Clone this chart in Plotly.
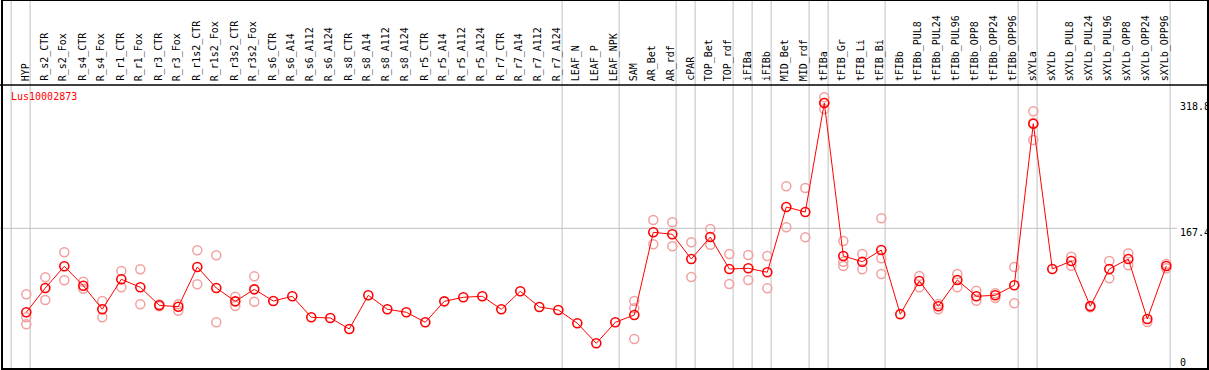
import plotly.graph_objects as go

title = "Lus10002873"

categories = [
    "HYP", "R_s2_CTR", "R_s2_Fox", "R_s4_CTR", "R_s4_Fox", "R_r1_CTR", "R_r1_Fox",
    "R_r3_CTR", "R_r3_Fox", "R_r1s2_CTR", "R_r1s2_Fox", "R_r3s2_CTR", "R_r3s2_Fox",
    "R_s6_CTR", "R_s6_A14", "R_s6_A112", "R_s6_A124", "R_s8_CTR", "R_s8_A14",
    "R_s8_A112", "R_s8_A124", "R_r5_CTR", "R_r5_A14", "R_r5_A112", "R_r5_A124",
    "R_r7_CTR", "R_r7_A14", "R_r7_A112", "R_r7_A124", "LEAF_N", "LEAF_P", "LEAF_NPK",
    "SAM", "AR_Bet", "AR_rdf", "cPAR", "TOP_Bet", "TOP_rdf", "iFIBa", "iFIBb",
    "MID_Bet", "MID_rdf", "tFIBa", "tFIB_Gr", "tFIB_Li", "tFIB_Bi", "tFIBb",
    "tFIBb_PUL8", "tFIBb_PUL24", "tFIBb_PUL96", "tFIBb_OPP8", "tFIBb_OPP24", "tFIBb_OPP96",
    "sXYLa", "sXYLb", "sXYLb_PUL8", "sXYLb_PUL24", "sXYLb_PUL96", "sXYLb_OPP8",
    "sXYLb_OPP24", "sXYLb_OPP96",
]

mean_values = [
    66.0, 95.3, 121.5, 98.1, 69.6, 105.8, 96.2,
    74.4, 72.7, 120.7, 95.3, 79.2, 93.7,
    79.6, 85.3, 59.9, 59.1, 45.8, 86.5,
    69.6, 66.0, 53.9, 79.2, 84.1, 85.3,
    69.6, 91.3, 72.4, 68.7, 52.7, 28.5, 53.9,
    62.7, 162.6, 160.2, 130.3, 156.9, 118.3, 119.1, 114.3,
    193.2, 187.1, 318.8, 134.0, 127.1, 141.2, 63.7,
    103.8, 73.2, 105.0, 85.3, 86.5, 98.6,
    293.8, 118.3, 127.9, 73.2, 118.3, 130.3,
    57.9, 121.9,
]

replicate_values = [
    [87.7, 59.9, 51.5], [108.2, 80.8], [138.4, 104.6], [102.9, 94.5], [79.6, 59.9],
    [115.8, 96.2], [117.9, 75.6], [75.5, 73.3], [75.6, 67.9], [140.9, 99.8],
    [134.8, 53.9], [84.8, 73.6], [109.4, 78.8],
    [], [], [], [], [], [], [], [], [], [], [], [], [], [], [], [], [], [], [],
    [79.6, 70.8, 33.7], [177.5, 148.1], [174.7, 145.7], [150.5, 108.6], [166.6, 147.6],
    [136.4, 100.1], [135.2, 105.0], [134.0, 94.9], [218.2, 168.6], [216.1, 156.6],
    [325.7, 319.0, 311.5], [152.1, 127.1, 121.9], [136.4, 117.9], [179.5, 131.2, 112.2],
    [], [109.8, 96.2], [76.0, 69.6], [112.2, 96.2], [92.0, 80.0], [88.9, 83.2],
    [120.7, 76.8], [308.8, 295.0, 274.1], [], [133.1, 122.2], [74.0, 72.0],
    [127.9, 107.0], [137.2, 122.7], [54.2], [124.3, 119.1],
]

# last category of each vertically separated group
group_last = ["HYP", "R_r7_A124", "LEAF_NPK", "AR_rdf", "cPAR", "TOP_rdf", "iFIBa",
              "iFIBb", "MID_rdf", "tFIBa", "tFIB_Bi", "tFIBb_OPP96", "sXYLa", "sXYLb_OPP96"]

tick_values = [318.8, 167.4, 0]
tick_labels = ["318.8", "167.4", "0"]
grid_value = 167.4

W, H = 1209, 370
MONO = "DejaVu Sans Mono, Liberation Mono, monospace"
RED = "#ff0000"
PINK = "#f2a0a0"
GRAY = "#c0c0c0"

xs = list(range(len(categories)))

rx, ry = [], []
for i, reps in enumerate(replicate_values):
    for v in reps:
        rx.append(i)
        ry.append(v)

fig = go.Figure()
fig.add_trace(go.Scatter(
    x=rx, y=ry, mode="markers",
    marker=dict(symbol="circle-open", size=9, color=PINK, line=dict(width=1.5, color=PINK)),
    hoverinfo="skip", showlegend=False, cliponaxis=False,
))
fig.add_trace(go.Scatter(
    x=xs, y=mean_values, mode="lines+markers",
    line=dict(color=RED, width=1),
    marker=dict(symbol="circle-open", size=9, color=RED, line=dict(width=1.6, color=RED)),
    showlegend=False, cliponaxis=False,
))

# axes mapping
x_step = 19.0
x0_px = 26.3
xr0 = -x0_px / x_step
xr1 = xr0 + W / x_step
y_scale = 1.208          # value units per pixel
y_zero_px = 366.9
yr0 = (y_zero_px - H) * y_scale
yr1 = y_zero_px * y_scale

shapes = []
sep_positions = [-0.8] + [categories.index(c) + 0.2 for c in group_last]
for sx in sep_positions:
    shapes.append(dict(type="line", xref="x", yref="paper", x0=sx, x1=sx, y0=0, y1=1,
                       line=dict(color=GRAY, width=1), layer="below"))
shapes.append(dict(type="line", xref="paper", yref="y", x0=0, x1=1177 / W,
                   y0=grid_value, y1=grid_value, line=dict(color=GRAY, width=1), layer="below"))
shapes.append(dict(type="line", xref="paper", yref="paper", x0=0, x1=1,
                   y0=1 - 85 / H, y1=1 - 85 / H, line=dict(color="black", width=1.5)))
shapes.append(dict(type="rect", xref="paper", yref="paper",
                   x0=2 / W, x1=1208 / W, y0=1 - 369 / H, y1=1.0,
                   line=dict(color="black", width=2), fillcolor="rgba(0,0,0,0)"))

annotations = []
for i, c in enumerate(categories):
    annotations.append(dict(
        x=i - 0.05, xref="x", y=1 - 83 / H, yref="paper", text=c, showarrow=False,
        textangle=-90, xanchor="center", yanchor="bottom",
        font=dict(family=MONO, size=10, color="black"),
    ))
annotations.append(dict(
    x=9 / W, xref="paper", y=1 - 96.7 / H, yref="paper", text=title, showarrow=False,
    xanchor="left", yanchor="middle", font=dict(family=MONO, size=10, color=RED),
))
for v, t in zip(tick_values, tick_labels):
    shift = -4 if v > 0 else 4.2
    annotations.append(dict(
        x=1178 / W, xref="paper", y=v, yref="y", yshift=shift, text=t, showarrow=False,
        xanchor="left", yanchor="middle", font=dict(family=MONO, size=10, color="black"),
    ))

fig.update_layout(
    width=W, height=H,
    margin=dict(l=0, r=0, t=0, b=0),
    paper_bgcolor="white", plot_bgcolor="white",
    xaxis=dict(range=[xr0, xr1], visible=False, fixedrange=True),
    yaxis=dict(range=[yr0, yr1], visible=False, fixedrange=True),
    shapes=shapes, annotations=annotations,
    showlegend=False,
)

fig.write_html(
    "out.html",
    config={"displayModeBar": False},
    post_script="document.body.style.margin='0';document.body.style.overflow='hidden';",
)
